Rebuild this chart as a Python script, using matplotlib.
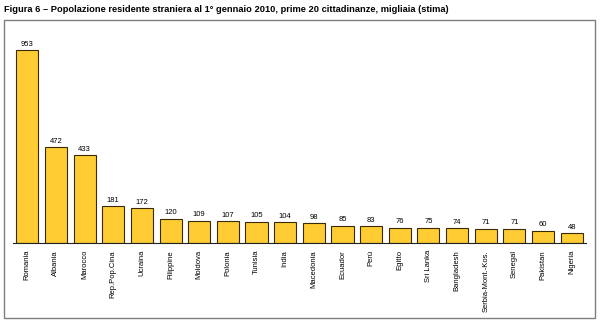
import matplotlib
matplotlib.use("Agg")
import matplotlib.pyplot as plt
from matplotlib.patches import Rectangle

paesi = ["Romania", "Albania", "Marocco", "Rep.Pop.Cina", "Ucraina", "Filippine",
         "Moldova", "Polonia", "Tunisia", "India", "Macedonia", "Ecuador", "Perù",
         "Egitto", "Sri Lanka", "Bangladesh", "Serbia-Mont.-Kos.", "Senegal",
         "Pakistan", "Nigeria"]
migliaia = [953, 472, 433, 181, 172, 120, 109, 107, 105, 104, 98, 85, 83, 76,
            75, 74, 71, 71, 60, 48]

plt.rcParams['font.family'] = ['Liberation Sans', 'DejaVu Sans']

fig = plt.figure(figsize=(6, 3.36), dpi=100)
# cornice del grafico
fig.patches.append(Rectangle((4/600, 1-318/336), 591/600, 298/336,
                             transform=fig.transFigure, fill=False,
                             edgecolor='#7f7f7f', lw=1.0))
fig.text(4/600, 1-10/336,
         "Figura 6 – Popolazione residente straniera al 1° gennaio 2010, prime 20 cittadinanze, migliaia (stima)",
         fontsize=6.7, fontweight='bold', va='center', ha='left')

ax = fig.add_axes([13/600, 93/336, 573/600, 208/336])
x = range(len(paesi))
ax.bar(x, migliaia, width=0.77, color='#FFCC33', edgecolor='#3a2a00', lw=0.8)
for xi, v in zip(x, migliaia):
    ax.text(xi, v + 12, str(v), ha='center', va='bottom', fontsize=5.5)
ax.set_xlim(-0.5, len(paesi) - 0.5)
ax.set_ylim(0, 1027)
ax.set_xticks(list(x))
ax.set_xticklabels(paesi, rotation=90, fontsize=5.5, va='top')
ax.tick_params(axis='x', length=0, pad=5)
ax.set_yticks([])
for s in ['top', 'right', 'left']:
    ax.spines[s].set_visible(False)
ax.spines['bottom'].set_color('#222222')
ax.spines['bottom'].set_linewidth(0.8)

fig.savefig("out.png", dpi=100)
